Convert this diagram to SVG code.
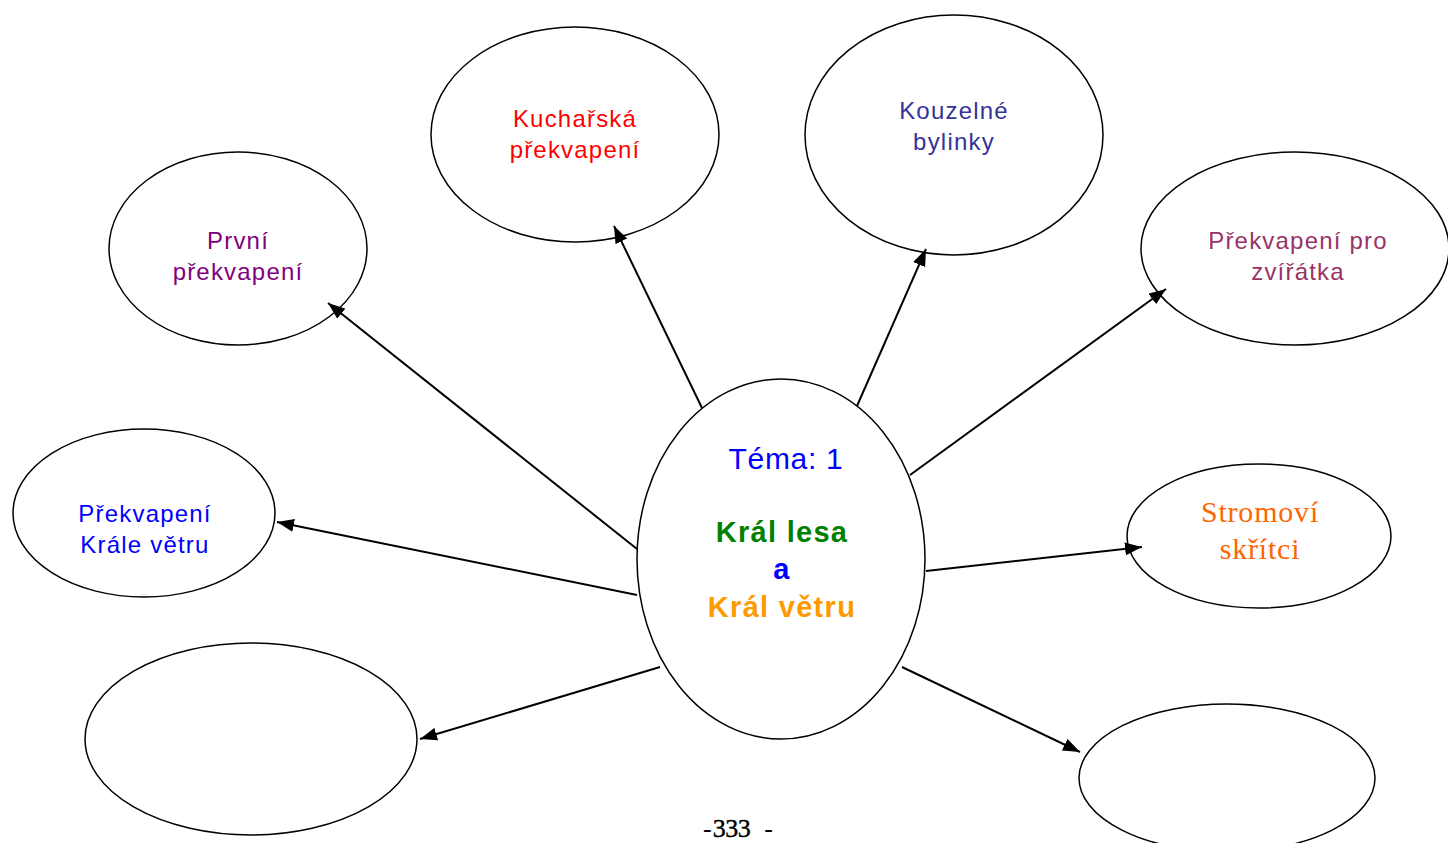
<svg xmlns="http://www.w3.org/2000/svg" width="1448" height="843" viewBox="0 0 1448 843">
<defs>
<style>
.n{fill:#fff;stroke:#000;stroke-width:1.5}
.t{font-family:"Liberation Sans",Arial,sans-serif;font-size:24px;letter-spacing:1.2px;text-anchor:middle}
.c{stroke:#000;stroke-width:2;fill:none;marker-end:url(#ah)}
.b{font-family:"Liberation Sans",Arial,sans-serif;font-size:29px;letter-spacing:1.3px;font-weight:bold;text-anchor:middle}
.s{font-family:"Liberation Serif","Times New Roman",serif;font-size:30px;letter-spacing:0.8px;text-anchor:middle;fill:#FF6600}
</style>
<marker id="ah" viewBox="0 0 17 13" refX="17" refY="6.5" markerWidth="17" markerHeight="13" markerUnits="userSpaceOnUse" orient="auto" preserveAspectRatio="none">
<path d="M0,0 L17,6.5 L0,13 z" fill="#000"/>
</marker>
</defs>
<rect width="1448" height="843" fill="#fff"/>
<g id="center">
<ellipse class="n" cx="781" cy="559" rx="144" ry="180"/>
<text class="t" x="786" y="469" fill="#0000FF" style="font-size:30px;letter-spacing:0.7px">Téma: 1</text>
<text class="b" x="782" y="542" fill="#008000">Král lesa</text>
<text class="b" x="782" y="579" fill="#0000FF">a</text>
<text class="b" x="782" y="617" fill="#FF9900">Král větru</text>
</g>
<g id="kucharska">
<ellipse class="n" cx="575" cy="134.5" rx="144" ry="107.5"/>
<text class="t" x="575" y="127" fill="#FF0000">Kuchařská</text>
<text class="t" x="575" y="158" fill="#FF0000">překvapení</text>
</g>
<g id="kouzelne">
<ellipse class="n" cx="954" cy="135" rx="149" ry="120"/>
<text class="t" x="954" y="119" fill="#333399">Kouzelné</text>
<text class="t" x="954" y="150" fill="#333399">bylinky</text>
</g>
<g id="prvni">
<ellipse class="n" cx="238" cy="248.5" rx="129" ry="96.5"/>
<text class="t" x="238" y="249" fill="#800080">První</text>
<text class="t" x="238" y="280" fill="#800080">překvapení</text>
</g>
<g id="zviratka">
<ellipse class="n" cx="1295" cy="248.5" rx="154" ry="96.5"/>
<text class="t" x="1298" y="249" fill="#993366">Překvapení pro</text>
<text class="t" x="1298" y="280" fill="#993366">zvířátka</text>
</g>
<g id="kralevetru">
<ellipse class="n" cx="144" cy="513" rx="131" ry="84"/>
<text class="t" x="145" y="522" fill="#0000FF">Překvapení</text>
<text class="t" x="145" y="553" fill="#0000FF">Krále větru</text>
</g>
<g id="stromovi">
<ellipse class="n" cx="1259" cy="536" rx="132" ry="72"/>
<text class="s" x="1260" y="522">Stromoví</text>
<text class="s" x="1260" y="559">skřítci</text>
</g>
<g id="empty-left">
<ellipse class="n" cx="251" cy="739" rx="166" ry="96"/>
</g>
<g id="empty-right">
<ellipse class="n" cx="1227" cy="778" rx="148" ry="74"/>
</g>
<g id="connectors">
<line class="c" x1="637" y1="549" x2="328" y2="303"/>
<line class="c" x1="702" y1="408" x2="614" y2="226"/>
<line class="c" x1="857" y1="406" x2="926" y2="249"/>
<line class="c" x1="910" y1="475" x2="1166" y2="289"/>
<line class="c" x1="637" y1="595" x2="277" y2="522"/>
<line class="c" x1="926" y1="571" x2="1142" y2="547"/>
<line class="c" x1="660" y1="667" x2="420" y2="739"/>
<line class="c" x1="902" y1="667" x2="1080" y2="752"/>
</g>
<text x="703" y="837" style="font-family:'Liberation Serif','Times New Roman',serif;font-size:26px">-<tspan dx="1" letter-spacing="-0.5" stroke="#000" stroke-width="0.4">333</tspan><tspan dx="14">-</tspan></text>
</svg>
